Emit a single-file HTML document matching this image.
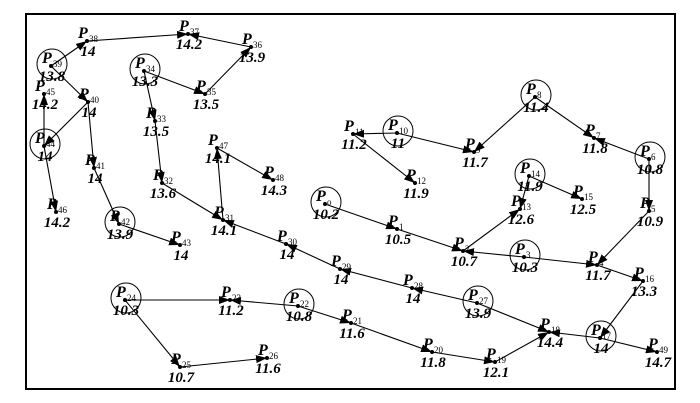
<!DOCTYPE html>
<html><head><meta charset="utf-8"><style>
html,body{margin:0;padding:0;background:#fff;}
svg{display:block;}
.p{font:italic bold 16px "Liberation Serif",serif;}
.s{font:9px "Liberation Serif",serif;}
.v{font:italic bold 15px "Liberation Serif",serif;}
</style></head><body>
<svg id="g" width="700" height="403" viewBox="0 0 700 403" xmlns="http://www.w3.org/2000/svg">
<defs><marker id="a" markerWidth="12" markerHeight="10" refX="11" refY="4" orient="auto" markerUnits="userSpaceOnUse"><path d="M0,0 L11,4 L0,8 Z" fill="#000"/></marker></defs>
<rect x="26" y="14" width="649" height="375" fill="none" stroke="#000" stroke-width="2"/>
</svg>
<script>
var N={0:[325,204,'10.2'],1:[397,229,'10.5'],2:[463,251,'10.7'],3:[524,257,'10.3'],4:[597,265,'11.7'],5:[649,211,'10.9'],6:[649,159,'10.8'],7:[594,138,'11.8'],8:[535,97,'11.4'],9:[474,152,'11.7'],10:[397,133,'11'],11:[353,134,'11.2'],12:[415,183,'11.9'],13:[520,209,'12.6'],14:[529,176,'11.9'],15:[582,199,'12.5'],16:[643,281,'13.3'],17:[600,338,'14'],18:[549,332,'14.4'],19:[495,362,'12.1'],20:[432,352,'11.8'],21:[351,323,'11.6'],22:[298,306,'10.8'],23:[230,300,'11.2'],24:[125,300,'10.3'],25:[180,367,'10.7'],26:[267,358,'11.6'],27:[477,303,'13.9'],28:[412,288,'14'],29:[340,269,'14'],30:[286,244,'14'],31:[223,220,'14.1'],32:[162,183,'13.6'],33:[155,121,'13.5'],34:[144,71,'13.3'],35:[205,94,'13.5'],36:[251,47,'13.9'],37:[188,34,'14.2'],38:[87,41,'14'],39:[51,66,'13.8'],40:[88,102,'14'],41:[94,168,'14'],42:[119,224,'13.9'],43:[180,245,'14'],44:[44,146,'14'],45:[44,94,'14.2'],46:[56,212,'14.2'],47:[217,148,'14.1'],48:[273,180,'14.3'],49:[657,352,'14.7']};
var C=[39,34,44,42,24,22,0,10,8,6,14,3,27,17];
var E=[[39,38],[38,37],[36,37],[35,36],[34,35],[34,33],[33,32],[32,31],[31,47],[47,48],[39,40],[40,44],[44,45],[44,46],[40,41],[41,42],[42,43],[30,31],[29,30],[28,29],[27,28],[27,18],[22,23],[24,23],[24,25],[25,26],[22,21],[21,20],[20,19],[19,18],[17,18],[16,17],[4,16],[5,4],[6,5],[6,7],[8,7],[8,9],[10,9],[10,11],[11,12],[14,15],[14,13],[2,13],[3,2],[3,4],[1,2],[0,1],[17,49]];
var s='';
C.forEach(function(k){var n=N[k];s+='<circle cx="'+(n[0]+1)+'" cy="'+(n[1]-2)+'" r="15" fill="none" stroke="#000" stroke-width="1"/>';});
E.forEach(function(e){var a=N[e[0]],b=N[e[1]];s+='<line x1="'+a[0]+'" y1="'+a[1]+'" x2="'+b[0]+'" y2="'+b[1]+'" stroke="#000" stroke-width="1.1" marker-end="url(#a)"/>';});
for(var k in N){var n=N[k];s+='<circle cx="'+n[0]+'" cy="'+n[1]+'" r="2" fill="#000"/>';
s+='<text class="p" x="'+(n[0]-9)+'" y="'+(n[1]-3)+'">P</text>';
s+='<text class="s" x="'+(n[0]+2)+'" y="'+(n[1]+1)+'"'+(k=='0'?' font-style="italic"':'')+'>'+(k=='0'?'o':k)+'</text>';
s+='<text class="v" text-anchor="middle" x="'+(n[0]+1)+'" y="'+(n[1]+15)+'">'+n[2]+'</text>';}
document.getElementById('g').insertAdjacentHTML('beforeend',s);
</script>
</body></html>
